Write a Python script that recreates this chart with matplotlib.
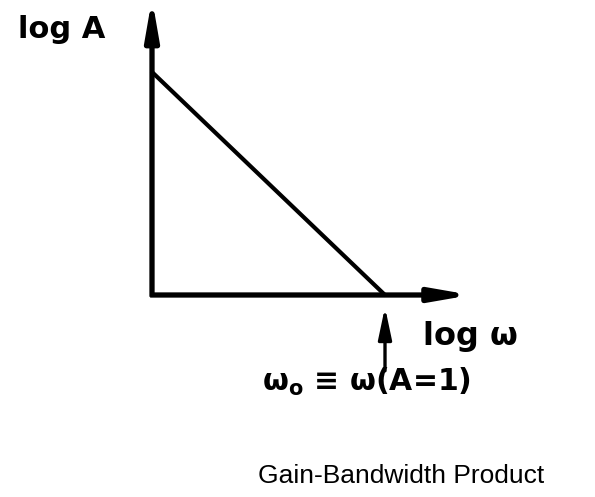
import matplotlib
matplotlib.use("Agg")
import matplotlib.pyplot as plt

# Open-loop gain asymptote on log-log axes: falls from the top value to A=1 at w0
log_w = [0.0, 1.0]
log_A = [1.0, 0.0]
w0 = 1.0

x_label = "log ω"
y_label = "log A"
w0_label = "ω$_\\mathregular{o}$ ≡ ω(A=1)"
title = "Gain-Bandwidth Product"

W, H = 595, 497
fig = plt.figure(figsize=(W / 100, H / 100), dpi=100)
fig.patch.set_facecolor("white")

# axes box spans the origin to (w0, A_max) of the sketch
ax = fig.add_axes([152 / W, 202 / H, 233 / W, 223 / H])
ax.set_xlim(0, 1)
ax.set_ylim(0, 1)
ax.axis("off")

hand = dict(family="DejaVu Sans", weight="bold", color="black")

# axes drawn as arrows
arrow_kw = dict(arrowstyle="-|>,head_length=1.15,head_width=0.2",
                lw=3.8, color="black", mutation_scale=20,
                shrinkA=0, shrinkB=0, capstyle="butt")
ax.annotate("", xy=(1.37, 0), xytext=(-0.008, 0), xycoords="data",
            arrowprops=arrow_kw, annotation_clip=False)
ax.annotate("", xy=(0, 1.33), xytext=(0, -0.008), xycoords="data",
            arrowprops=arrow_kw, annotation_clip=False)

# gain line
ax.plot(log_w, log_A, color="black", lw=3.0, solid_capstyle="round",
        clip_on=False)

# marker arrow pointing at w0
ax.annotate("", xy=(w0, -0.054), xytext=(w0, -0.34),
            arrowprops=dict(arrowstyle="-|>,head_length=0.95,head_width=0.2",
                            lw=2.4, color="black", mutation_scale=20,
                            shrinkA=0, shrinkB=0),
            annotation_clip=False)

fig.text(62 / W, 1 - 30 / H, y_label, ha="center", va="center",
         fontsize=22, **hand)
fig.text(470 / W, 1 - 337 / H, x_label, ha="center", va="center",
         fontsize=23, **hand)
fig.text(366 / W, 1 - 382 / H, w0_label, ha="center", va="center",
         fontsize=21.5, **hand)
fig.text(401 / W, 1 - 476 / H, title, ha="center", va="center",
         fontsize=19, family="Liberation Sans", color="black")

fig.savefig("out.png", dpi=100, facecolor="white")
